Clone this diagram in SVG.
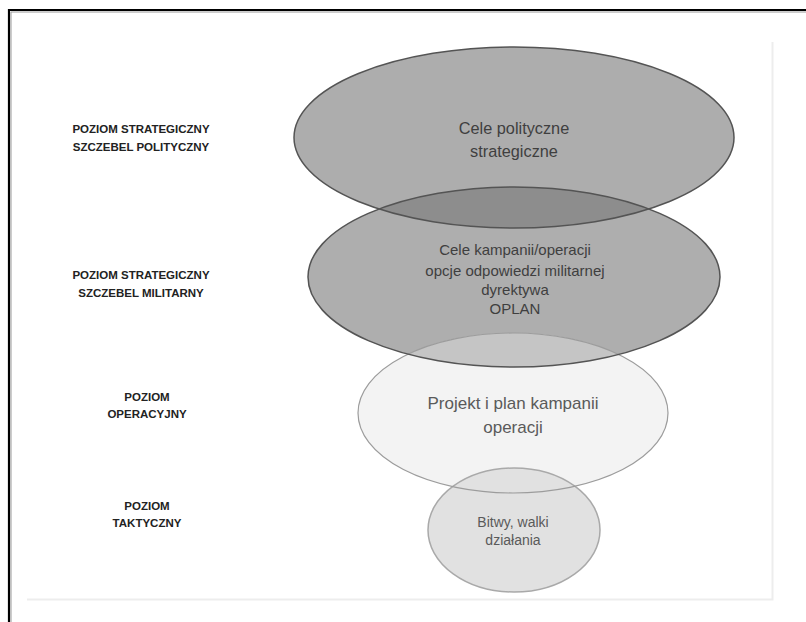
<svg xmlns="http://www.w3.org/2000/svg" width="806" height="622" viewBox="0 0 806 622">
  <style>
    .lbl { font-family: "Liberation Sans", Arial, sans-serif; font-weight: bold; font-size: 11.5px; fill: #222; text-anchor: middle; }
    .txt { font-family: "Liberation Sans", Arial, sans-serif; text-anchor: middle; }
    .dark { fill: #3f3f3f; }
    .mid { fill: #5a5a5a; }
  </style>
  <defs>
    <clipPath id="clipE1"><ellipse cx="514" cy="137.5" rx="220" ry="90.5"/></clipPath>
    <clipPath id="clipE2"><ellipse cx="514" cy="277" rx="206" ry="90"/></clipPath>
    <clipPath id="clipE3"><ellipse cx="513" cy="413" rx="155" ry="80"/></clipPath>
  </defs>

  <rect width="806" height="622" fill="#ffffff"/>

  <!-- outer frame -->
  <path d="M9 622 V10 H806" fill="none" stroke="#000" stroke-width="2.2"/>
  <path d="M11 622 V12 H806" fill="none" stroke="#9a9a9a" stroke-width="1"/>

  <!-- page panel edges -->
  <path d="M772.5 42 V599.5 H27" fill="none" stroke="#ededed" stroke-width="2"/>

  <!-- level labels -->
  <g id="label-strat-pol">
    <text class="lbl" x="141" y="133">POZIOM STRATEGICZNY</text>
    <text class="lbl" x="141" y="151">SZCZEBEL POLITYCZNY</text>
  </g>
  <g id="label-strat-mil">
    <text class="lbl" x="141" y="279">POZIOM STRATEGICZNY</text>
    <text class="lbl" x="141" y="297">SZCZEBEL MILITARNY</text>
  </g>
  <g id="label-oper">
    <text class="lbl" x="147" y="401">POZIOM</text>
    <text class="lbl" x="147" y="418">OPERACYJNY</text>
  </g>
  <g id="label-takt">
    <text class="lbl" x="147" y="510">POZIOM</text>
    <text class="lbl" x="147" y="527">TAKTYCZNY</text>
  </g>

  <!-- ellipse fills -->
  <g id="connectors"/>
  <g id="node-polityczne">
    <ellipse cx="514" cy="137.5" rx="220" ry="90.5" fill="#adadad"/>
  </g>
  <g id="node-militarne">
    <ellipse cx="514" cy="277" rx="206" ry="90" fill="#aeaeae"/>
    <ellipse cx="514" cy="277" rx="206" ry="90" fill="#8d8d8d" clip-path="url(#clipE1)"/>
  </g>
  <g id="node-operacyjne">
    <ellipse cx="513" cy="413" rx="155" ry="80" fill="#f3f3f3"/>
    <ellipse cx="513" cy="413" rx="155" ry="80" fill="#c5c5c5" clip-path="url(#clipE2)"/>
  </g>
  <g id="node-taktyczne">
    <ellipse cx="514" cy="530" rx="86" ry="62" fill="#e1e1e1"/>
  </g>

  <!-- outlines -->
  <g fill="none">
    <ellipse cx="514" cy="530" rx="86" ry="62" stroke="#a9a9a9" stroke-width="1.5"/>
    <ellipse cx="513" cy="413" rx="155" ry="80" stroke="#9c9c9c" stroke-width="1.2"/>
    <ellipse cx="514" cy="277" rx="206" ry="90" stroke="#545454" stroke-width="1.5"/>
    <ellipse cx="514" cy="137.5" rx="220" ry="90.5" stroke="#545454" stroke-width="1.5"/>
  </g>

  <!-- ellipse texts -->
  <g class="txt dark" font-size="16.3">
    <text x="514" y="134">Cele polityczne</text>
    <text x="514" y="157">strategiczne</text>
  </g>
  <g class="txt dark" font-size="15">
    <text x="515" y="255">Cele kampanii/operacji</text>
    <text x="515" y="276">opcje odpowiedzi militarnej</text>
    <text x="515" y="295">dyrektywa</text>
    <text x="515" y="314">OPLAN</text>
  </g>
  <g class="txt mid" font-size="17">
    <text x="513" y="409">Projekt i plan kampanii</text>
    <text x="513" y="433">operacji</text>
  </g>
  <g class="txt mid" font-size="14">
    <text x="513" y="527">Bitwy, walki</text>
    <text x="513" y="545">działania</text>
  </g>
</svg>
